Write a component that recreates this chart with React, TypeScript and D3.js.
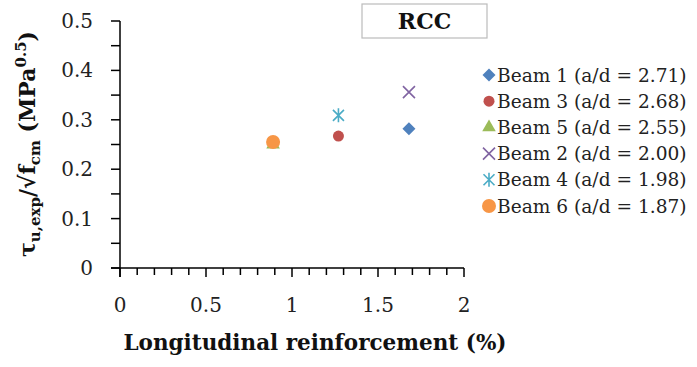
import React from 'react';
import * as d3 from 'd3';

// beam data
const beamNames = ['Beam 1 (a/d = 2.71)', 'Beam 3 (a/d = 2.68)', 'Beam 5 (a/d = 2.55)', 'Beam 2 (a/d = 2.00)', 'Beam 4 (a/d = 1.98)', 'Beam 6 (a/d = 1.87)'];
const reinforcement = [1.68, 1.27, 0.89, 1.68, 1.27, 0.89];
const shearRatio = [0.282, 0.267, 0.25, 0.356, 0.309, 0.255];
const markerKinds = ['diamond', 'circle', 'triangle', 'cross', 'star', 'bigcircle'];
const markerColors = ['#4F81BD', '#C0504D', '#9BBB59', '#8064A2', '#4BACC6', '#F79646'];

const xTickLabels = ['0', '0.5', '1', '1.5', '2'];
const yTickLabels = ['0', '0.1', '0.2', '0.3', '0.4', '0.5'];

const W = 697;
const H = 367;
const serif = '"DejaVu Serif", "Liberation Serif", serif';

const x = d3.scaleLinear().domain([0, 2]).range([120, 464]);
const y = d3.scaleLinear().domain([0, 0.5]).range([268, 21]);

const Marker = ({ kind, color, cx, cy }) => {
  if (kind === 'diamond') {
    return <rect x={-4.6} y={-4.6} width={9.2} height={9.2} transform={`translate(${cx},${cy}) rotate(45)`} fill={color} />;
  }
  if (kind === 'circle') {
    return <circle cx={cx} cy={cy} r={5.5} fill={color} />;
  }
  if (kind === 'bigcircle') {
    return <circle cx={cx} cy={cy} r={7} fill={color} />;
  }
  if (kind === 'triangle') {
    return <path d={d3.symbol(d3.symbolTriangle, 80)()} transform={`translate(${cx},${cy})`} fill={color} />;
  }
  if (kind === 'cross') {
    return <path d="M-6,-6L6,6M-6,6L6,-6" transform={`translate(${cx},${cy})`} stroke={color} strokeWidth={1.6} fill="none" />;
  }
  // asterisk
  return <path d="M-5.5,-5.5L5.5,5.5M-5.5,5.5L5.5,-5.5M0,-7L0,7" transform={`translate(${cx},${cy})`} stroke={color} strokeWidth={1.6} fill="none" />;
};

export default function App() {
  const xMinor = d3.range(0, 21).map(i => i / 10);
  const yMinor = d3.range(0, 11).map(i => i * 0.05);

  return (
    <svg width={W} height={H} style={{ position: 'absolute', left: 0, top: 0, background: '#fff' }} fontFamily={serif}>
      <rect width={W} height={H} fill="#fff" />

      {/* y axis */}
      <line x1={x(0)} x2={x(0)} y1={y(0.5)} y2={y(0) + 9} stroke="#000" strokeWidth={1.5} />
      {yMinor.map((v, i) => (
        <line key={'yt' + i} x1={x(0) - 9} x2={x(0)} y1={y(v)} y2={y(v)} stroke="#000" strokeWidth={1.5} />
      ))}
      {yTickLabels.map(t => (
        <text key={'yl' + t} x={93} y={y(+t)} dy="0.35em" textAnchor="end" fontSize={20} fill="#222">{t}</text>
      ))}

      {/* x axis */}
      <line x1={x(0) - 9} x2={x(2)} y1={y(0)} y2={y(0)} stroke="#000" strokeWidth={1.5} />
      {xMinor.map((v, i) => (
        <line key={'xt' + i} x1={x(v)} x2={x(v)} y1={y(0)} y2={y(0) + (i % 5 === 0 ? 9 : 7)} stroke="#000" strokeWidth={1.5} />
      ))}
      {xTickLabels.map(t => (
        <text key={'xl' + t} x={x(+t)} y={305} dy="0.35em" textAnchor="middle" fontSize={20} fill="#222">{t}</text>
      ))}

      {/* axis titles */}
      <text x={315} y={350} textAnchor="middle" fontSize={21.5} fontWeight="bold" fill="#111">Longitudinal reinforcement (%)</text>
      <text transform="translate(35,144) rotate(-90)" textAnchor="middle" fontSize={22} fontWeight="bold" fill="#111">
        <tspan>τ</tspan>
        <tspan fontSize={15} dy={5}>u,exp</tspan>
        <tspan dy={-5}>/√f</tspan>
        <tspan fontSize={15} dy={5}>cm</tspan>
        <tspan dy={-5}> (MPa</tspan>
        <tspan fontSize={15} dy={-9}>0.5</tspan>
        <tspan dy={9}>)</tspan>
      </text>

      {/* RCC box */}
      <rect x={362} y={4} width={125} height={34} fill="#fff" stroke="#bbb" strokeWidth={1.2} />
      <text x={424.5} y={21} dy="0.35em" textAnchor="middle" fontSize={22} fontWeight="bold" fill="#111">RCC</text>

      {/* points */}
      {beamNames.map((n, i) => (
        <Marker key={'p' + n} kind={markerKinds[i]} color={markerColors[i]} cx={x(reinforcement[i])} cy={y(shearRatio[i])} />
      ))}

      {/* legend */}
      {beamNames.map((n, i) => {
        const ly = 75 + i * 26.2;
        return (
          <g key={'lg' + n}>
            <Marker kind={markerKinds[i]} color={markerColors[i]} cx={489} cy={ly} />
            <text x={497} y={ly} dy="0.35em" fontSize={18.6} fill="#222">{n}</text>
          </g>
        );
      })}
    </svg>
  );
}
